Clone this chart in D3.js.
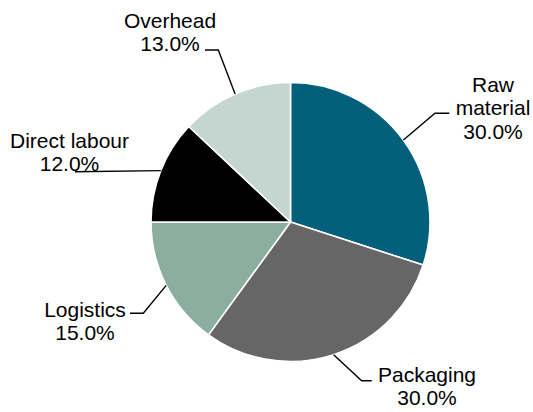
<!DOCTYPE html>
<html>
<head>
<meta charset="utf-8">
<script src="https://cdn.jsdelivr.net/npm/d3@7"></script>
<style>
  html, body { margin: 0; padding: 0; background: #ffffff; }
  svg { display: block; }
  text { font-family: "Liberation Sans", Arial, sans-serif; font-size: 21px; fill: #000; }
</style>
</head>
<body>
<svg id="chart" width="533" height="412"></svg>
<script>
// Cost breakdown, drawn clockwise from 12 o'clock
const categories = ["Raw material", "Packaging", "Logistics", "Direct labour", "Overhead"];
const shares = [30, 30, 15, 12, 13];
const labelLines = [["Raw", "material"], ["Packaging"], ["Logistics"], ["Direct labour"], ["Overhead"]];

const colors = ["#035f7b", "#666666", "#8bae9f", "#000000", "#c5d6d1"];

// Label placement relative to the pie centre: elbow of the leader,
// end of its short horizontal run, text centre and first baseline.
const labelLayout = [
  { elbow: [144.5, -108.7], end: [158.8, -108.7], text: [202.5, -130.5] },
  { elbow: [71.2, 158.7],   end: [81.2, 158.7],   text: [136.5, 159.5] },
  { elbow: [-147.2, 91.3],  end: [-160.5, 91.3],  text: [-205.5, 94.5] },
  { elbow: null,            end: [-215.5, -50.3], text: [-221, -74.5] },
  { elbow: [-72.2, -172],   end: [-85.5, -172],   text: [-120.5, -194.5] }
];

const cx = 290.5, cy = 222, radius = 139.5, lineStep = 23.5;

const svg = d3.select("#chart");
const g = svg.append("g").attr("transform", `translate(${cx},${cy})`);

const data = categories.map((c, i) => ({ category: c, value: shares[i], lines: labelLines[i], color: colors[i], layout: labelLayout[i] }));

const pie = d3.pie().sort(null).value(d => d.value);
const arc = d3.arc().innerRadius(0).outerRadius(radius);
const arcs = pie(data);

g.selectAll("path.slice")
  .data(arcs)
  .join("path")
  .attr("class", "slice")
  .attr("d", arc)
  .attr("fill", d => d.data.color)
  .attr("stroke", "#ffffff")
  .attr("stroke-width", 1.6)
  .attr("stroke-linejoin", "round");

const fmt = d => d3.format(".1f")(d) + "%";

// Leader lines from the middle of each slice's outer arc
g.selectAll("polyline.leader")
  .data(arcs)
  .join("polyline")
  .attr("class", "leader")
  .attr("fill", "none")
  .attr("stroke", "#000")
  .attr("stroke-width", 1.4)
  .attr("points", d => {
    const mid = (d.startAngle + d.endAngle) / 2;
    const start = [Math.sin(mid) * radius, -Math.cos(mid) * radius];
    const pts = [start];
    if (d.data.layout.elbow) pts.push(d.data.layout.elbow);
    pts.push(d.data.layout.end);
    return pts.map(p => p.join(",")).join(" ");
  });

// Category name and percentage labels
const labels = g.selectAll("text.label")
  .data(arcs)
  .join("text")
  .attr("class", "label")
  .attr("text-anchor", "middle")
  .attr("x", d => d.data.layout.text[0])
  .attr("y", d => d.data.layout.text[1]);

labels.each(function(d) {
  const t = d3.select(this);
  const lines = d.data.lines.concat([fmt(d.data.value)]);
  lines.forEach((ln, i) => {
    t.append("tspan")
      .attr("x", d.data.layout.text[0])
      .attr("y", d.data.layout.text[1] + i * lineStep)
      .text(ln);
  });
});
</script>
</body>
</html>
